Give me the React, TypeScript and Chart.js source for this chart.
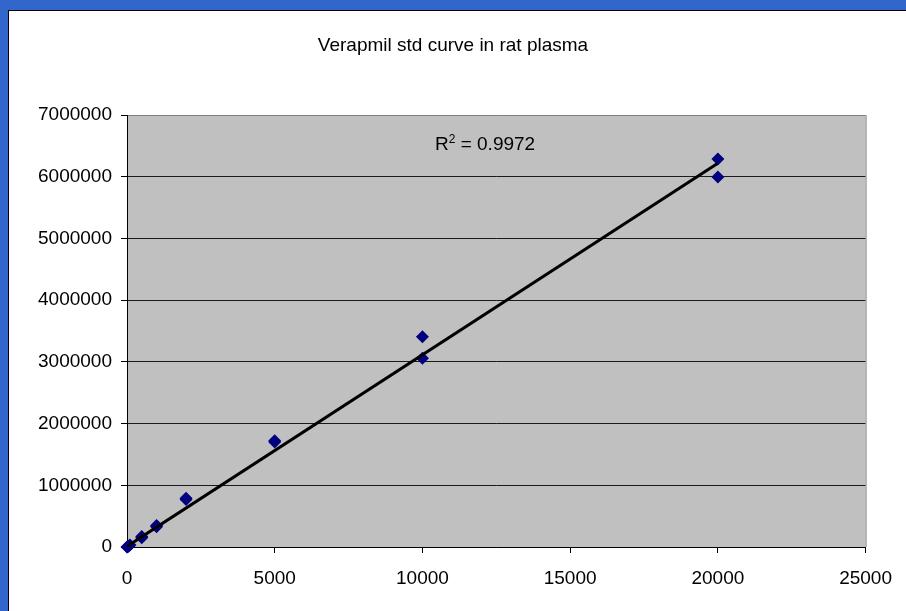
import React, { useEffect, useRef } from 'react';
import { Chart, registerables } from 'chart.js';

Chart.register(...registerables);

// Data
const concentration = [0, 20, 50, 100, 500, 500, 1000, 1000, 2000, 2000, 5000, 5000, 10000, 10000, 20000, 20000];
const peakArea = [0, 6000, 14000, 32000, 170000, 150000, 350000, 330000, 790000, 770000, 1700000, 1720000, 3408000, 3058000, 6287000, 5995000];
const trendX = [0, 20000];
const trendY = [10000, 6220000];
const chartTitle = 'Verapmil std curve in rat plasma';
const r2Value = '0.9972';
const xMax = 25000;
const xStep = 5000;
const yMax = 7000000;
const yStep = 1000000;

const FONT = '"Liberation Sans", Arial, sans-serif';

export default function App() {
  const canvasRef = useRef<HTMLCanvasElement | null>(null);

  useEffect(() => {
    const canvas = canvasRef.current;
    if (!canvas) return;

    const decor = {
      id: 'decor',
      beforeDraw(chart: any) {
        const { ctx, chartArea } = chart;
        ctx.save();
        ctx.fillStyle = '#C0C0C0';
        ctx.fillRect(chartArea.left, chartArea.top, chartArea.right - chartArea.left, chartArea.bottom - chartArea.top);
        ctx.restore();
      },
      beforeDatasetsDraw(chart: any) {
        const { ctx, chartArea } = chart;
        ctx.save();
        ctx.strokeStyle = '#808080';
        ctx.lineWidth = 1;
        ctx.beginPath();
        ctx.moveTo(chartArea.right + 0.5, chartArea.top);
        ctx.lineTo(chartArea.right + 0.5, chartArea.bottom);
        ctx.stroke();
        ctx.restore();
      },
      afterDraw(chart: any) {
        const { ctx } = chart;
        ctx.save();
        ctx.fillStyle = '#000';
        ctx.font = `19px ${FONT}`;
        ctx.textAlign = 'center';
        ctx.textBaseline = 'middle';
        ctx.fillText(chartTitle, 453, 46);

        // R² label
        ctx.textAlign = 'left';
        ctx.textBaseline = 'alphabetic';
        let x = 435;
        const baseY = 150;
        ctx.font = `19px ${FONT}`;
        ctx.fillText('R', x, baseY);
        x += ctx.measureText('R').width;
        ctx.font = `12px ${FONT}`;
        ctx.fillText('2', x, baseY - 7);
        x += ctx.measureText('2').width;
        ctx.font = `19px ${FONT}`;
        ctx.fillText(' = ' + r2Value, x, baseY);
        ctx.restore();
      },
    };

    const points = concentration.map((c, i) => ({ x: c, y: peakArea[i] }));
    const trend = trendX.map((c, i) => ({ x: c, y: trendY[i] }));

    const chart = new Chart(canvas, {
      type: 'scatter',
      data: {
        datasets: [
          {
            type: 'line',
            data: trend,
            borderColor: '#000000',
            borderWidth: 3,
            pointRadius: 0,
            fill: false,
            order: 0,
          } as any,
          {
            data: points,
            pointStyle: 'rectRot',
            pointRadius: 6.5,
            backgroundColor: '#000080',
            borderColor: '#000080',
            borderWidth: 0,
            order: 1,
            clip: false,
          } as any,
        ],
      },
      options: {
        animation: false,
        responsive: false,
        events: [],
        layout: { padding: { top: 115, right: 39, left: 0, bottom: 0 } },
        plugins: {
          legend: { display: false },
          title: { display: false },
          tooltip: { enabled: false },
        },
        scales: {
          x: {
            type: 'linear',
            min: 0,
            max: xMax,
            ticks: {
              stepSize: xStep,
              color: '#000',
              font: { family: FONT, size: 19 },
              padding: 14,
              maxRotation: 0,
              callback: (v: any) => String(v),
            },
            grid: { drawOnChartArea: false, drawTicks: true, tickLength: 6, color: '#000' },
            border: { color: '#000', width: 1 },
            afterFit: (s: any) => {
              s.height = 64;
            },
          },
          y: {
            type: 'linear',
            min: 0,
            max: yMax,
            ticks: {
              stepSize: yStep,
              color: '#000',
              font: { family: FONT, size: 19 },
              padding: 9,
              callback: (v: any) => String(v),
            },
            grid: {
              color: (c: any) => (c.tick && c.tick.value === yMax ? '#808080' : '#1a1a1a'),
              tickColor: '#000',
              tickLength: 6,
              drawTicks: true,
            },
            border: { color: '#000', width: 1 },
            afterFit: (s: any) => {
              s.width = 127;
            },
          },
        },
      },
      plugins: [decor],
    } as any);

    return () => {
      chart.destroy();
    };
  }, []);

  return (
    <div style={{ position: 'fixed', left: 0, top: 0, width: 906, height: 611, background: '#3366CC', overflow: 'hidden' }}>
      <div
        style={{
          position: 'absolute',
          left: 8,
          top: 10,
          right: 0,
          bottom: 0,
          background: '#FFFFFF',
          borderLeft: '1px solid #000',
          borderTop: '1px solid #000',
        }}
      />
      <canvas
        ref={canvasRef}
        width={906}
        height={611}
        style={{ position: 'absolute', left: 0, top: 0, width: 906, height: 611 }}
      />
    </div>
  );
}
